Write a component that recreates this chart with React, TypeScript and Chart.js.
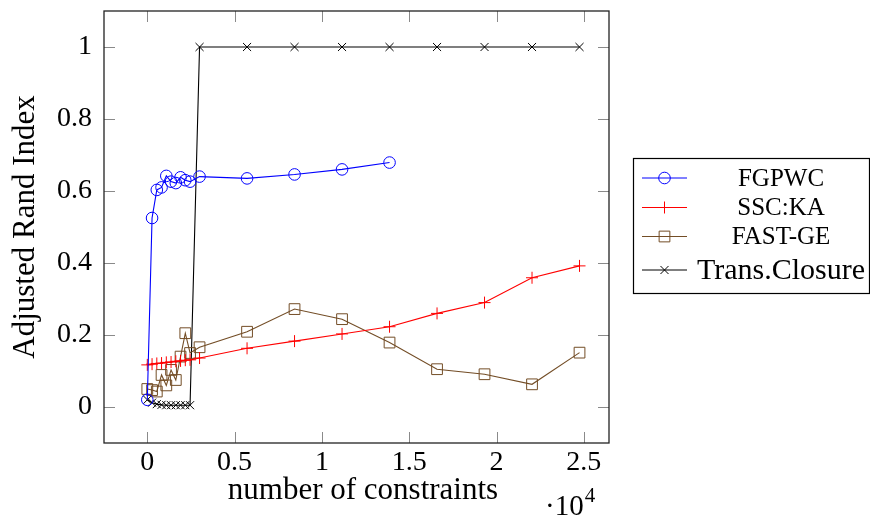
import React, { useEffect, useRef } from "react";
import { Chart, registerables } from "chart.js";

Chart.register(...registerables);

// ---- data ----
const seriesLabels = ["FGPWC", "SSC:KA", "FAST-GE", "Trans.Closure"];

const fgpwcX = [0, 272, 544, 816, 1088, 1360, 1632, 1904, 2176, 2448, 2992, 5712, 8432, 11152, 13872];
const fgpwcY = [0.02, 0.525, 0.603, 0.61, 0.642, 0.626, 0.622, 0.638, 0.63, 0.626, 0.64, 0.635, 0.646, 0.66, 0.679];

const sscX = [0, 272, 544, 816, 1088, 1360, 1632, 1904, 2176, 2448, 2992, 5712, 8432, 11152, 13872, 16592, 19312, 22032, 24752];
const sscY = [0.117, 0.119, 0.121, 0.122, 0.124, 0.125, 0.127, 0.128, 0.13, 0.131, 0.136, 0.163, 0.183, 0.203, 0.223, 0.26, 0.29, 0.359, 0.392];

const fastX = [0, 272, 544, 816, 1088, 1360, 1632, 1904, 2176, 2448, 2992, 5712, 8432, 11152, 13872, 16592, 19312, 22032, 24752];
const fastY = [0.05, 0.047, 0.043, 0.089, 0.06, 0.103, 0.075, 0.14, 0.205, 0.15, 0.166, 0.209, 0.272, 0.244, 0.179, 0.105, 0.091, 0.063, 0.151];

const transX = [0, 272, 544, 816, 1088, 1360, 1632, 1904, 2176, 2448, 2992, 5712, 8432, 11152, 13872, 16592, 19312, 22032, 24752];
const transY = [0.02, 0.012, 0.008, 0.006, 0.005, 0.005, 0.005, 0.005, 0.005, 0.005, 1, 1, 1, 1, 1, 1, 1, 1, 1];

const xTicks = [0, 5000, 10000, 15000, 20000, 25000];
const yTicks = [0, 0.2, 0.4, 0.6, 0.8, 1];
const xScaleFactor = 10000;
const xTitle = "number of constraints";
const xExponentBase = "·10";
const xExponent = "4";
const yTitle = "Adjusted Rand Index";

// ---- styles ----
const FONT = "'Liberation Serif', 'Times New Roman', serif";
const BLUE = "#0000ff";
const RED = "#ff0000";
const BROWN = "#734d26";
const BLACK = "#000000";

const seriesStyles = [
  { color: BLUE, style: "circle", r: 5.8, legendFont: `25px ${FONT}` },
  { color: RED, style: "cross", r: 6, legendFont: `25px ${FONT}` },
  { color: BROWN, style: "rect", r: 7.6, legendFont: `25px ${FONT}` },
  { color: BLACK, style: "crossRot", r: 5.7, legendFont: `30px ${FONT}` },
];

function toPoints(xs: number[], ys: number[]) {
  return xs.map((x, i) => ({ x, y: ys[i] }));
}

function drawMarker(ctx: CanvasRenderingContext2D, style: string, x: number, y: number, r: number) {
  ctx.beginPath();
  if (style === "circle") {
    ctx.arc(x, y, r, 0, Math.PI * 2);
  } else if (style === "cross") {
    ctx.moveTo(x - r, y);
    ctx.lineTo(x + r, y);
    ctx.moveTo(x, y - r);
    ctx.lineTo(x, y + r);
  } else if (style === "rect") {
    const s = r * Math.SQRT1_2;
    ctx.rect(x - s, y - s, 2 * s, 2 * s);
  } else {
    const o = r * Math.SQRT1_2;
    ctx.moveTo(x - o, y - o);
    ctx.lineTo(x + o, y + o);
    ctx.moveTo(x - o, y + o);
    ctx.lineTo(x + o, y - o);
  }
  ctx.stroke();
}

const framePlugin = {
  id: "pgfFrame",
  beforeDatasetsDraw(chart: any) {
    const { ctx, chartArea: a, scales } = chart;
    const xs = scales.x;
    const ys = scales.y;
    const tl = 11;
    ctx.save();
    ctx.strokeStyle = "#8a8a8a";
    ctx.lineWidth = 1;
    ctx.beginPath();
    xTicks.forEach((v) => {
      const px = Math.round(xs.getPixelForValue(v)) + 0.5;
      ctx.moveTo(px, a.bottom);
      ctx.lineTo(px, a.bottom - tl);
      ctx.moveTo(px, a.top);
      ctx.lineTo(px, a.top + tl);
    });
    yTicks.forEach((v) => {
      const py = Math.round(ys.getPixelForValue(v)) + 0.5;
      ctx.moveTo(a.left, py);
      ctx.lineTo(a.left + tl, py);
      ctx.moveTo(a.right, py);
      ctx.lineTo(a.right - tl, py);
    });
    ctx.stroke();
    ctx.restore();
  },
  afterDraw(chart: any) {
    const { ctx, chartArea: a } = chart;
    ctx.save();
    // frame
    ctx.strokeStyle = "#222";
    ctx.lineWidth = 1.3;
    ctx.strokeRect(a.left, a.top, a.right - a.left, a.bottom - a.top);

    // axis titles
    ctx.fillStyle = "#000";
    ctx.font = `31px ${FONT}`;
    ctx.textAlign = "center";
    ctx.textBaseline = "alphabetic";
    ctx.fillText(xTitle, 363, 499);

    ctx.textAlign = "left";
    ctx.font = `29px ${FONT}`;
    ctx.fillText(xExponentBase, 545, 515);
    const w = ctx.measureText(xExponentBase).width;
    ctx.font = `21px ${FONT}`;
    ctx.fillText(xExponent, 545 + w + 1, 502);

    ctx.save();
    ctx.translate(34, (a.top + a.bottom) / 2);
    ctx.rotate(-Math.PI / 2);
    ctx.textAlign = "center";
    ctx.font = `31px ${FONT}`;
    ctx.fillText(yTitle, 0, 0);
    ctx.restore();

    // legend
    const bx = 633, by = 158, bw = 236, bh = 135;
    ctx.fillStyle = "#fff";
    ctx.fillRect(bx, by, bw, bh);
    ctx.strokeStyle = "#000";
    ctx.lineWidth = 1.2;
    ctx.strokeRect(bx + 0.5, by + 0.5, bw, bh);
    const rowY = [178, 207.5, 236.5, 270];
    seriesLabels.forEach((label, i) => {
      const st = seriesStyles[i];
      const y = rowY[i];
      ctx.strokeStyle = st.color;
      ctx.lineWidth = 1;
      ctx.beginPath();
      ctx.moveTo(642, y);
      ctx.lineTo(687, y);
      ctx.stroke();
      drawMarker(ctx, st.style, 664.5, y, st.r);
      ctx.fillStyle = "#000";
      ctx.font = st.legendFont;
      ctx.textAlign = "center";
      ctx.textBaseline = "middle";
      ctx.fillText(label, 781, y + 1);
    });
    ctx.restore();
  },
};

function zeroPadding(s: any) {
  s.paddingTop = 0;
  s.paddingBottom = 0;
  s.paddingLeft = 0;
  s.paddingRight = 0;
}

export default function App() {
  const ref = useRef<HTMLCanvasElement | null>(null);

  useEffect(() => {
    if (!ref.current) return;
    const seriesData = [
      toPoints(fgpwcX, fgpwcY),
      toPoints(sscX, sscY),
      toPoints(fastX, fastY),
      toPoints(transX, transY),
    ];
    const chart = new Chart(ref.current, {
      type: "scatter",
      data: {
        datasets: seriesLabels.map((label, i) => ({
          label,
          data: seriesData[i],
          showLine: true,
          borderColor: seriesStyles[i].color,
          borderWidth: 1.1,
          backgroundColor: "rgba(0,0,0,0)",
          pointStyle: seriesStyles[i].style as any,
          pointRadius: seriesStyles[i].r,
          pointHoverRadius: seriesStyles[i].r,
          pointBorderColor: seriesStyles[i].color,
          pointBackgroundColor: "rgba(0,0,0,0)",
          pointBorderWidth: 1,
          tension: 0,
        })),
      },
      options: {
        animation: false,
        responsive: false,
        devicePixelRatio: 1,
        layout: { padding: { left: 0, top: 11, right: 261, bottom: 0 } },
        plugins: {
          legend: { display: false },
          title: { display: false },
          tooltip: { enabled: false },
        },
        scales: {
          x: {
            type: "linear",
            min: -2480,
            max: 26440,
            grid: { display: false, drawTicks: false },
            border: { display: false },
            afterFit: (s: any) => {
              s.height = 77;
              zeroPadding(s);
            },
            afterBuildTicks: (s: any) => {
              s.ticks = xTicks.map((v) => ({ value: v }));
            },
            ticks: {
              padding: 3,
              color: "#000",
              font: { family: FONT, size: 28 },
              maxRotation: 0,
              callback: (v: any) => String(Number(v) / xScaleFactor),
            },
          },
          y: {
            type: "linear",
            min: -0.1,
            max: 1.1,
            grid: { display: false, drawTicks: false },
            border: { display: false },
            afterFit: (s: any) => {
              s.width = 104;
              zeroPadding(s);
            },
            afterBuildTicks: (s: any) => {
              s.ticks = yTicks.map((v) => ({ value: v }));
            },
            ticks: {
              padding: 12,
              color: "#000",
              font: { family: FONT, size: 28 },
              callback: (v: any) => String(v),
            },
          },
        },
      },
      plugins: [framePlugin],
    });
    return () => chart.destroy();
  }, []);

  return (
    <div style={{ position: "fixed", left: 0, top: 0, width: 870, height: 520, background: "#fff" }}>
      <canvas ref={ref} width={870} height={520} />
    </div>
  );
}
